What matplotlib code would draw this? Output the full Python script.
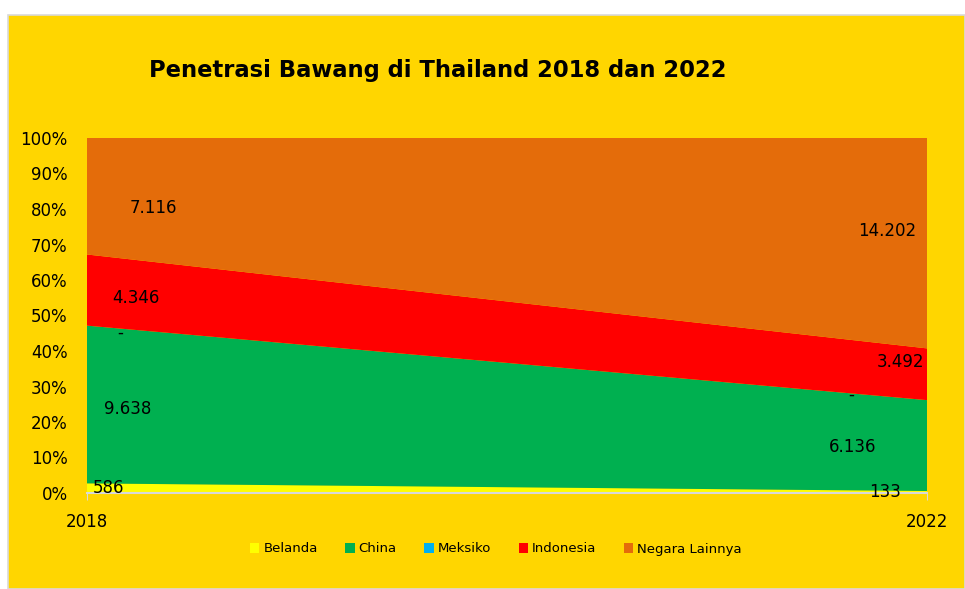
import matplotlib.pyplot as plt
import numpy as np
from matplotlib.patches import Rectangle

# import volumes (tons) per origin country
years = [2018, 2022]
countries = ["Belanda", "China", "Meksiko", "Indonesia", "Negara Lainnya"]
belanda = [586, 133]
china = [9638, 6136]
meksiko = [0, 0]
indonesia = [4346, 3492]
lainnya = [7116, 14202]

colors = ["#FFFF00", "#00B050", "#00B0F0", "#FF0000", "#E46C0A"]
panel_color = "#FFD600"

# where along the x axis each label sits (fraction of the span), per year
label_frac_2018 = [0.025, 0.049, 0.040, 0.058, 0.079]
label_frac_2022 = [0.950, 0.911, 0.910, 0.968, 0.953]
# small vertical nudges for the labels, in points (positive = up)
label_dy_2018 = [0, -2, 1, -2, -6]
label_dy_2022 = [0, -4, 3, 7, 7]


def fmt_value(v):
    if v == 0:
        return "-"
    return f"{v:,}".replace(",", ".")


series = np.array([belanda, china, meksiko, indonesia, lainnya], dtype=float)
shares = series / series.sum(axis=0) * 100
tops = np.cumsum(shares, axis=0)
bottoms = tops - shares

fig = plt.figure(figsize=(9.65, 5.89), dpi=100)
fig.patch.set_facecolor("white")
fig.patches.append(
    Rectangle((8 / 965, 0), 1 - 8 / 965, 1 - 15 / 589, transform=fig.transFigure,
              facecolor=panel_color, edgecolor="#D9D9D9", linewidth=1.2, zorder=-5)
)

ax = fig.add_axes([87 / 965, 96 / 589, 840 / 965, 355 / 589])
ax.set_facecolor("none")
ax.stackplot(years, shares, colors=colors, labels=countries, linewidth=0)

ax.set_xlim(years[0], years[-1])
ax.set_ylim(0, 100)
ax.set_yticks(np.arange(0, 101, 10))
ax.set_yticklabels([f"{t}%" for t in range(0, 101, 10)])
ax.set_xticks(years)
ax.tick_params(axis="y", length=0, pad=14, labelsize=12)
ax.tick_params(axis="x", length=5, color="#D9D9D9", pad=9.5, labelsize=12)
for side in ["left", "top", "right"]:
    ax.spines[side].set_visible(False)
ax.spines["bottom"].set_color("#D9D9D9")
ax.spines["bottom"].set_linewidth(1.5)

# value labels near the middle of each band
span = years[-1] - years[0]
for i in range(len(countries)):
    for j, (fracs, dys) in enumerate([(label_frac_2018, label_dy_2018),
                                      (label_frac_2022, label_dy_2022)]):
        f = fracs[i]
        lo = bottoms[i, 0] + (bottoms[i, 1] - bottoms[i, 0]) * f
        hi = tops[i, 0] + (tops[i, 1] - tops[i, 0]) * f
        y = (lo + hi) / 2 if shares[i, j] > 0 else lo - 1.5
        ax.annotate(fmt_value(int(series[i, j])), (years[0] + span * f, y),
                    xytext=(0, dys[i]), textcoords="offset points",
                    ha="center", va="center", fontsize=12, color="black")

fig.text(438 / 965, 1 - 70 / 589, "Penetrasi Bawang di Thailand 2018 dan 2022",
         ha="center", va="center", fontsize=16.3, fontweight="bold")

fig.legend(loc="center", bbox_to_anchor=(496 / 965, 1 - 549 / 589), ncol=5,
           frameon=False, fontsize=9.5, handlelength=0.7, handleheight=0.7,
           handletextpad=0.3, columnspacing=2.1)

fig.savefig("out.png", dpi=100, facecolor=fig.get_facecolor())
